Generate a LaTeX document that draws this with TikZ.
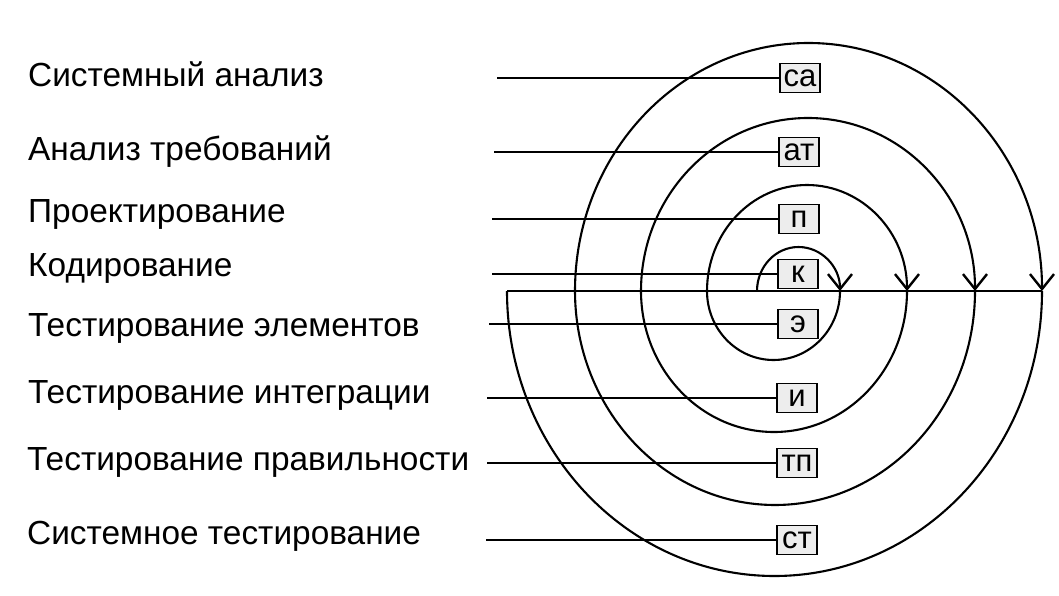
\documentclass[tikz,border=0pt]{standalone}
\usepackage{fontspec}
\setmainfont{Liberation Sans}
\usetikzlibrary{arrows.meta}
\begin{document}
\begin{tikzpicture}[x=1pt,y=1pt,
  lab/.style={anchor=base west, font=\fontsize{33.4}{40}\selectfont, inner sep=0pt},
  stage/.style={draw, line width=1.8pt, fill=gray!14, minimum width=40pt, minimum height=29pt, inner sep=0pt, font=\fontsize{31}{32}\selectfont},
  conn/.style={line width=2.1pt},
  turn/.style={line width=2.1pt},
  arr/.style={-{Straight Barb[length=15pt,width=24pt,line width=2.4pt]}}]
\useasboundingbox (0,0) rectangle (1059,595);
% stage labels
\node[lab] (l1) at (28,508) {Системный анализ};
\node[lab] (l2) at (28,434) {Анализ требований};
\node[lab] (l3) at (28,372) {Проектирование};
\node[lab] (l4) at (28,318) {Кодирование};
\node[lab] (l5) at (28,259) {Тестирование элементов};
\node[lab] (l6) at (28,192) {Тестирование интеграции};
\node[lab] (l7) at (27,125) {Тестирование правильности};
\node[lab] (l8) at (27,51) {Системное тестирование};
% spiral points on the axis
\coordinate (a0) at (757,304);
\coordinate (a1) at (840,304);
\coordinate (a2) at (707,304);
\coordinate (a3) at (907,304);
\coordinate (a4) at (641,304);
\coordinate (a5) at (975,304);
\coordinate (a6) at (575,304);
\coordinate (a7) at (1042,304);
\coordinate (a8) at (507,304);
% upper half-turns with arrows
\draw[turn,arr] (a0) arc[start angle=180,end angle=0,x radius=41.5,y radius=44];
\draw[turn,arr] (a2) arc[start angle=180,end angle=0,x radius=100,y radius=106];
\draw[turn,arr] (a4) arc[start angle=180,end angle=0,x radius=167,y radius=173];
\draw[turn,arr] (a6) arc[start angle=180,end angle=0,x radius=233.5,y radius=248];
% lower half-turns
\draw[turn] (a1) arc[start angle=0,end angle=-180,x radius=66.5,y radius=69];
\draw[turn] (a3) arc[start angle=0,end angle=-180,x radius=133,y radius=141];
\draw[turn] (a5) arc[start angle=0,end angle=-180,x radius=200,y radius=214];
\draw[turn] (a7) arc[start angle=0,end angle=-180,x radius=267.5,y radius=285];
% axis
\draw[turn] (a8) -- (a7);
% boxes
\node[stage] (b1) at (800,517) {са};
\node[stage] (b2) at (799,443) {ат};
\node[stage] (b3) at (799,376) {п};
\node[stage] (b4) at (798,321) {к};
\node[stage] (b5) at (798,271) {э};
\node[stage] (b6) at (797,197) {и};
\node[stage] (b7) at (797,132) {тп};
\node[stage] (b8) at (797,55) {ст};
% connector start points
\coordinate (s1) at (497,517);
\coordinate (s2) at (494,443);
\coordinate (s3) at (492,376);
\coordinate (s4) at (492,321);
\coordinate (s5) at (489,271);
\coordinate (s6) at (487,197);
\coordinate (s7) at (487,132);
\coordinate (s8) at (486,55);
\foreach \i in {1,...,8} \draw[conn] (s\i) -- (b\i.west);
\end{tikzpicture}
\end{document}
